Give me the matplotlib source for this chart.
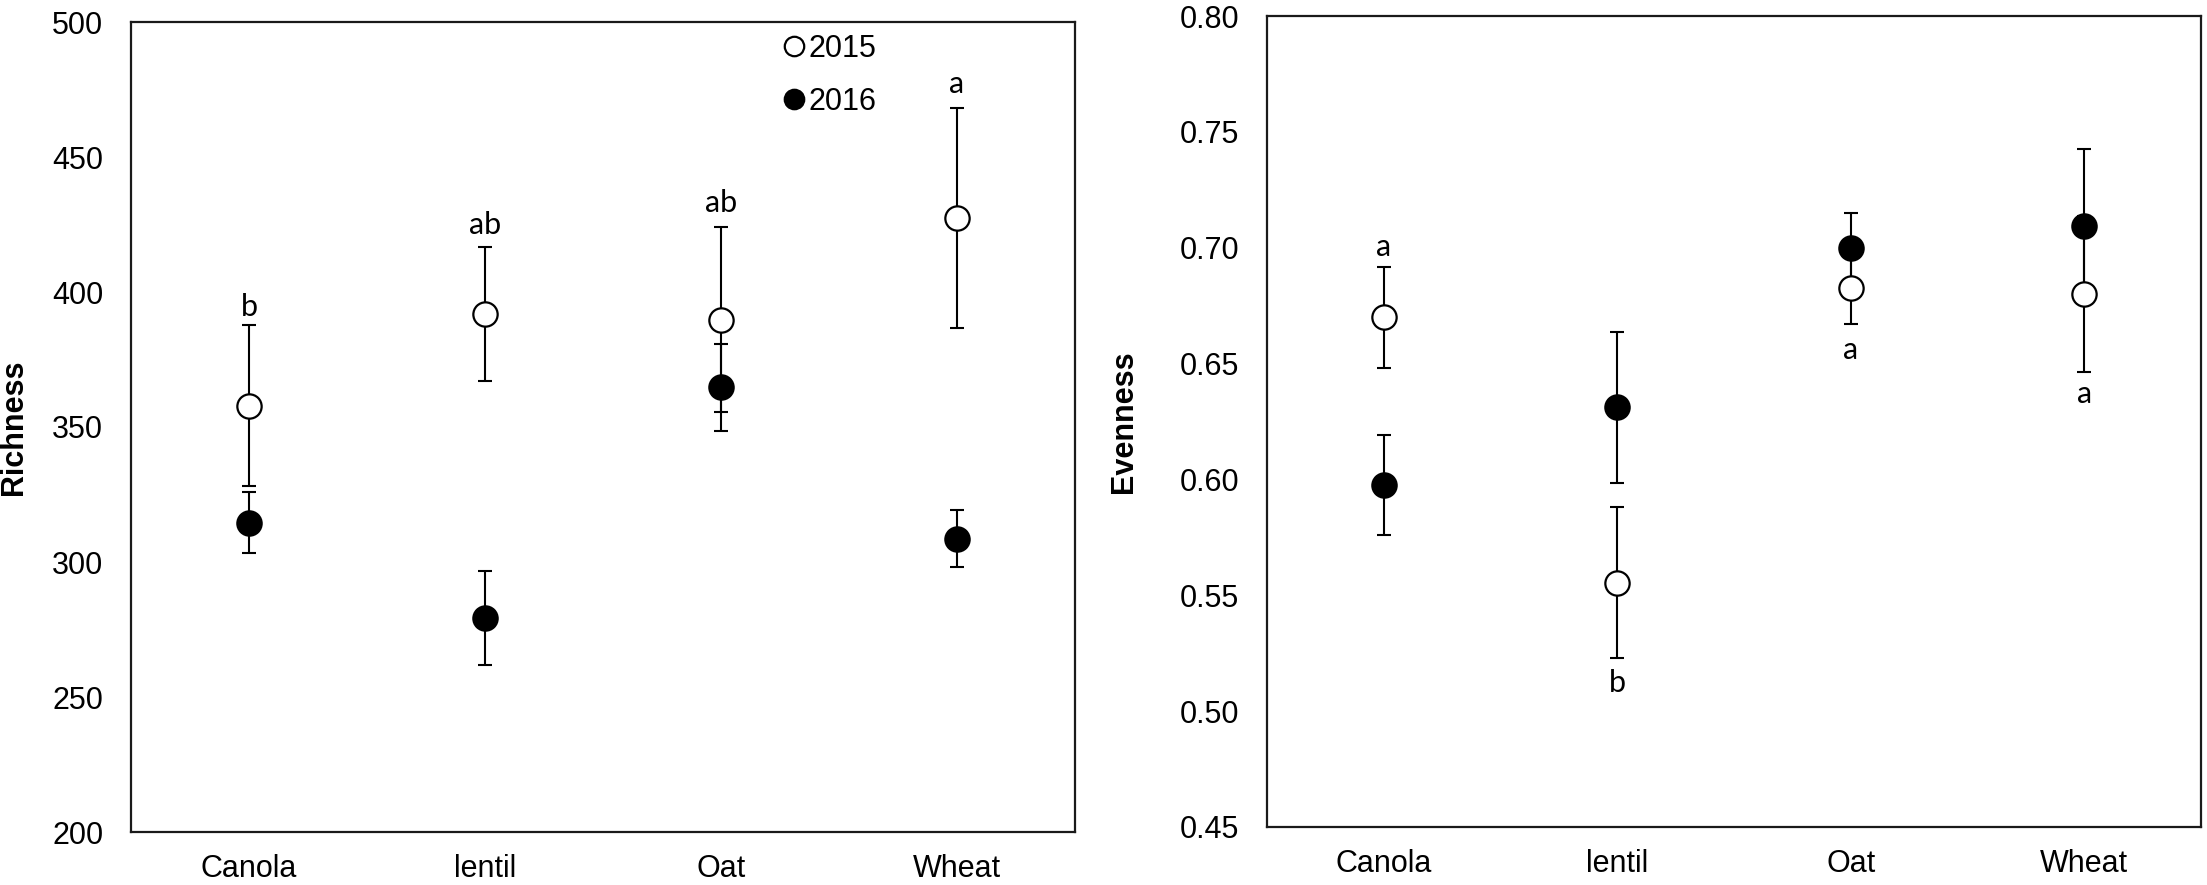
import matplotlib
matplotlib.use("Agg")
import matplotlib.pyplot as plt
import numpy as np

# ---- data ----
crops = ["Canola", "lentil", "Oat", "Wheat"]
years = ["2015", "2016"]

rich_2015 = [357.8, 391.9, 389.8, 427.5]
rich_2015_err = [29.8, 24.9, 34.2, 40.7]
rich_2016 = [314.6, 279.2, 364.7, 308.7]
rich_2016_err = [11.2, 17.5, 16.0, 10.5]
rich_letters = ["b", "ab", "ab", "a"]
rich_letter_y = [394.4, 424.7, 433.1, 477.0]

even_2015 = [0.670, 0.5555, 0.6824, 0.680]
even_2015_err = [0.0217, 0.0325, 0.0154, 0.0337]
even_2016 = [0.5977, 0.6311, 0.700, 0.7092]
even_2016_err = [0.0216, 0.0327, 0.0151, 0.0335]
even_letters = ["a", "b", "a", "a"]
even_letter_y = [0.7002, 0.512, 0.656, 0.6367]

rich_ticks = [200, 250, 300, 350, 400, 450, 500]
even_ticks = [0.45, 0.50, 0.55, 0.60, 0.65, 0.70, 0.75, 0.80]

W, H = 2207, 885
DPI = 100
plt.rcParams["font.family"] = ["Liberation Sans", "DejaVu Sans"]

fig = plt.figure(figsize=(W / DPI, H / DPI), dpi=DPI)
ax1 = fig.add_axes([131 / W, 1 - 832 / H, 944 / W, 810 / H])
ax2 = fig.add_axes([1267 / W, 1 - 827 / H, 934 / W, 811 / H])

x = np.arange(1, len(crops) + 1)
ms = 17.5
FS = 22
LETTER_FONT = ["Lato", "DejaVu Sans"]


def draw(ax, m15, e15, m16, e16, letters, ly, ylim, ticks, fmt, ylabel):
    for m, e in ((m15, e15), (m16, e16)):
        ax.errorbar(x, m, yerr=e, fmt="none", ecolor="black", elinewidth=1.5,
                    capsize=4.8, capthick=1.5, zorder=2)
    ax.plot(x, m15, "o", ms=ms, mfc="white", mec="black", mew=1.6,
            ls="none", zorder=3, label=years[0])
    ax.plot(x, m16, "o", ms=ms, mfc="black", mec="black", mew=1.6,
            ls="none", zorder=3, label=years[1])
    for xi, t, yy in zip(x, letters, ly):
        ax.text(xi, yy, t, ha="center", va="center", fontsize=22,
                family=LETTER_FONT, color="black")
    ax.set_xlim(0.5, len(crops) + 0.5)
    ax.set_ylim(*ylim)
    ax.set_yticks(ticks)
    ax.set_yticklabels([fmt.format(t) for t in ticks])
    ax.set_xticks(x)
    ax.set_xticklabels(crops)
    ax.tick_params(axis="both", length=0, labelsize=FS)
    ax.tick_params(axis="y", pad=20)
    ax.tick_params(axis="x", pad=16)
    for s in ax.spines.values():
        s.set_linewidth(1.6)
        s.set_color("#1a1a1a")
    ax.set_ylabel(ylabel, fontsize=FS, fontweight="bold")


draw(ax1, rich_2015, rich_2015_err, rich_2016, rich_2016_err,
     rich_letters, rich_letter_y, (200, 500), rich_ticks, "{:.0f}", "Richness")
draw(ax2, even_2015, even_2015_err, even_2016, even_2016_err,
     even_letters, even_letter_y, (0.45, 0.80), even_ticks, "{:.2f}", "Evenness")

ax1.yaxis.set_label_coords(-0.108, 0.5)
ax2.yaxis.set_label_coords((1139 - 1267) / 934, 0.5)

ax1.legend(loc="upper left", bbox_to_anchor=((783 - 131) / 944, 0.985),
           frameon=False, fontsize=FS, markerscale=0.8, handlelength=0.7,
           handletextpad=0.15, labelspacing=0.75, borderpad=0, borderaxespad=0)

fig.savefig("out.png", dpi=DPI)
